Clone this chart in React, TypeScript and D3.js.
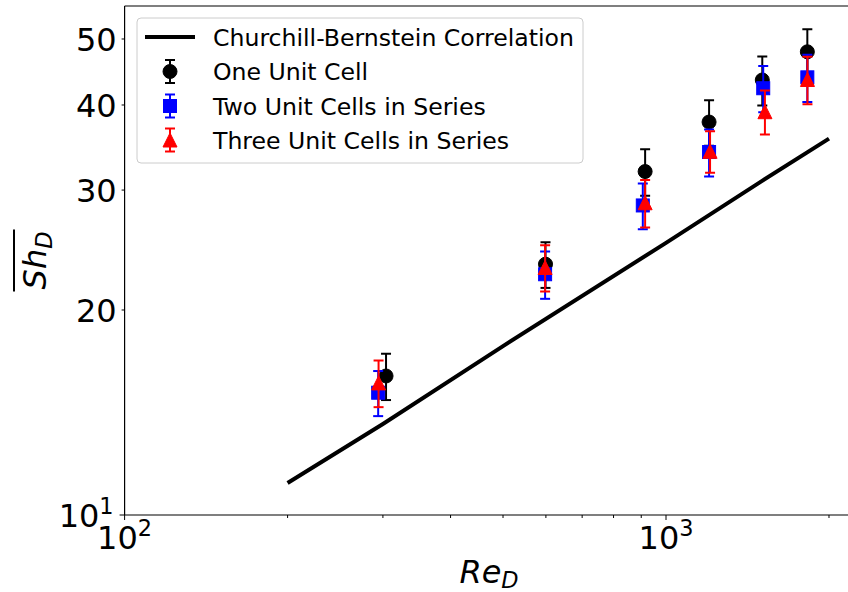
import React from 'react';
import * as d3 from 'd3';

// ---------- data ----------
const reOne = [304, 599, 915, 1201, 1506, 1824];
const shOne = [16.0, 23.35, 31.94, 37.76, 43.53, 47.88];
const errOne = [1.25, 1.8, 2.5, 2.9, 3.6, 3.8];

const reTwo = [294, 598, 906, 1201, 1512, 1824];
const shTwo = [15.12, 22.57, 28.48, 34.12, 42.33, 43.92];
const errTwo = [1.15, 1.8, 2.2, 2.7, 3.3, 3.5];

const reThree = [294.5, 598, 915, 1206, 1523, 1825];
const shThree = [15.63, 23.09, 28.74, 34.2, 39.1, 43.6];
const errThree = [1.23, 1.8, 2.3, 2.4, 2.9, 3.5];

const reCB = [200, 300, 500, 1000, 1500, 2000];
const shCB = [11.14, 13.6, 17.7, 25.1, 30.9, 35.7];

const legendLabels = [
  'Churchill-Bernstein Correlation',
  'One Unit Cell',
  'Two Unit Cells in Series',
  'Three Unit Cells in Series',
];

const xMajorTicks = [100, 1000];
const xMajorExp = ['2', '3'];
const xMinorTicks = [200, 300, 400, 500, 600, 700, 800, 900, 2000];
const yMinorTicks = [20, 30, 40, 50];
const yMinorLabels = ['20', '30', '40', '50'];

const W = 848;
const H = 592;
const FONT = '"DejaVu Sans", sans-serif';

type Shape = 'circle' | 'square' | 'triangle';

function Marker({ cx, cy, shape, color }: { cx: number; cy: number; shape: Shape; color: string }) {
  if (shape === 'circle') return <circle cx={cx} cy={cy} r={7} fill={color} stroke={color} strokeWidth={1} />;
  if (shape === 'square')
    return <rect x={cx - 6.5} y={cy - 6.5} width={13} height={13} fill={color} stroke={color} strokeWidth={1} />;
  const s = 7;
  return (
    <path
      d={`M${cx},${cy - s} L${cx - s},${cy + s} L${cx + s},${cy + s} Z`}
      fill={color}
      stroke={color}
      strokeWidth={1}
    />
  );
}

function ErrBar({ cx, y1, y2, color }: { cx: number; y1: number; y2: number; color: string }) {
  return (
    <g stroke={color} strokeWidth={2}>
      <line x1={cx} x2={cx} y1={y1} y2={y2} />
      <line x1={cx - 5} x2={cx + 5} y1={y1} y2={y1} />
      <line x1={cx - 5} x2={cx + 5} y1={y2} y2={y2} />
    </g>
  );
}

export default function App() {
  const left = 124.6;
  const top = 6;
  const bottom = 515;
  const x = d3.scaleLog().domain([100, 2200]).range([left, 851.4]);
  const y = d3.scaleLog().domain([10, 55.9]).range([bottom, top]);
  const right = x.range()[1];

  const series = [
    { re: reOne, sh: shOne, err: errOne, color: '#000000', shape: 'circle' as Shape },
    { re: reTwo, sh: shTwo, err: errTwo, color: '#0000ff', shape: 'square' as Shape },
    { re: reThree, sh: shThree, err: errThree, color: '#ff0000', shape: 'triangle' as Shape },
  ];

  const cbLine = d3
    .line<number>()
    .x((_, i) => x(reCB[i]))
    .y((d) => y(d))(shCB) as string;

  const tickFs = 32;
  const supFs = 22.4;
  const legFs = 23.6;
  const rows = [37, 71.5, 106, 140];

  return (
    <svg
      width={W}
      height={H}
      style={{ position: 'absolute', left: 0, top: 0, background: '#fff' }}
      fontFamily={FONT}
    >
      <defs>
        <clipPath id="plotclip">
          <rect x={left} y={top} width={right - left} height={bottom - top} />
        </clipPath>
      </defs>
      <rect x={0} y={0} width={W} height={H} fill="#fff" />

      {/* data */}
      <g clipPath="url(#plotclip)">
        <path d={cbLine} fill="none" stroke="#000" strokeWidth={4} />
        {series.map((s, si) => (
          <g key={si}>
            {s.re.map((r, i) => (
              <g key={i}>
                <ErrBar cx={x(r)} y1={y(s.sh[i] + s.err[i])} y2={y(s.sh[i] - s.err[i])} color={s.color} />
                <Marker cx={x(r)} cy={y(s.sh[i])} shape={s.shape} color={s.color} />
              </g>
            ))}
          </g>
        ))}
      </g>

      {/* spines */}
      <g stroke="#000" strokeWidth={1.2} fill="none">
        <line x1={left} x2={left} y1={top} y2={bottom} />
        <line x1={left} x2={right} y1={bottom} y2={bottom} />
        <line x1={left} x2={right} y1={top} y2={top} />
        <line x1={right} x2={right} y1={top} y2={bottom} />
      </g>

      {/* ticks */}
      <g stroke="#000" strokeWidth={1}>
        {xMajorTicks.map((t) => (
          <line key={t} x1={x(t)} x2={x(t)} y1={bottom} y2={bottom + 5} />
        ))}
        {xMinorTicks.map((t) => (
          <line key={t} x1={x(t)} x2={x(t)} y1={bottom} y2={bottom + 3} />
        ))}
        <line x1={left} x2={left - 5} y1={y(10)} y2={y(10)} />
        {yMinorTicks.map((t) => (
          <line key={t} x1={left} x2={left - 3} y1={y(t)} y2={y(t)} />
        ))}
      </g>
      {xMajorTicks.map((t, i) => (
        <text key={t} x={x(t)} y={bottom + 33.5} fontSize={tickFs} textAnchor="middle" fill="#000">
          10
          <tspan fontSize={supFs} dy={-12.5}>
            {xMajorExp[i]}
          </tspan>
        </text>
      ))}

      {/* y tick labels */}
      <text x={left - 11} y={y(10) + 12} fontSize={tickFs} textAnchor="end" fill="#000">
        10
        <tspan fontSize={supFs} dy={-13.5}>
          1
        </tspan>
      </text>
      {yMinorTicks.map((t, i) => (
        <text key={t} x={left - 8} y={y(t) + 11.7} fontSize={tickFs} textAnchor="end" fill="#000">
          {yMinorLabels[i]}
        </text>
      ))}

      {/* axis labels */}
      <text x={489} y={583} fontSize={32} textAnchor="middle" fontStyle="italic" fill="#000">
        Re
        <tspan fontSize={supFs} dy={4.5}>
          D
        </tspan>
      </text>
      <g transform={`translate(46, ${(top + bottom) / 2}) rotate(-90)`}>
        <text x={0} y={0} fontSize={32} textAnchor="middle" fontStyle="italic" fill="#000">
          Sh
          <tspan fontSize={supFs} dy={6}>
            D
          </tspan>
        </text>
        <line x1={-31} x2={31} y1={-32} y2={-32} stroke="#000" strokeWidth={2} />
      </g>

      {/* legend */}
      <rect
        x={137}
        y={18}
        width={446}
        height={145}
        rx={4}
        fill="#fff"
        fillOpacity={0.8}
        stroke="#cccccc"
        strokeWidth={1}
      />
      <line x1={145} x2={195} y1={rows[0]} y2={rows[0]} stroke="#000" strokeWidth={4} />
      {series.map((s, i) => (
        <g key={i}>
          <ErrBar cx={170} y1={rows[i + 1] - 11.5} y2={rows[i + 1] + 11.5} color={s.color} />
          <Marker cx={170} cy={rows[i + 1]} shape={s.shape} color={s.color} />
        </g>
      ))}
      {legendLabels.map((l, i) => (
        <text key={l} x={213} y={rows[i] + 8.5} fontSize={legFs} fill="#000">
          {l}
        </text>
      ))}
    </svg>
  );
}
